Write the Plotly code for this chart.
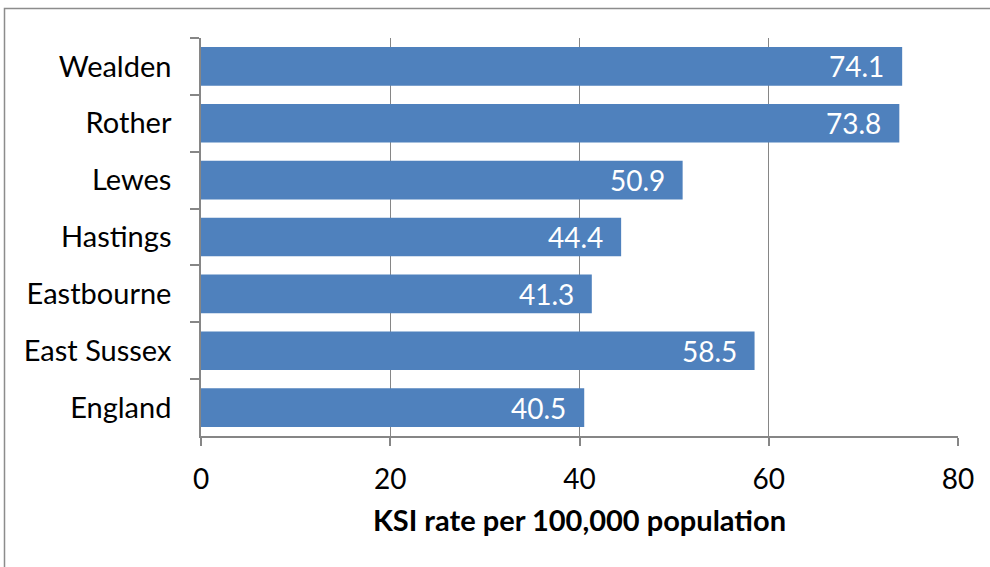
import plotly.graph_objects as go

# Killed or seriously injured (KSI) casualties per 100,000 population
areas = ["Wealden", "Rother", "Lewes", "Hastings", "Eastbourne", "East Sussex", "England"]
ksi_rate = [74.1, 73.8, 50.9, 44.4, 41.3, 58.5, 40.5]
x_ticks = [0, 20, 40, 60, 80]

W, H = 990, 567
L, R, T, B = 201, 32, 38, 131
FONT = "Lato, 'Open Sans', sans-serif"
GRID = "#868686"

fig = go.Figure(
    go.Bar(
        y=areas,
        x=ksi_rate,
        orientation="h",
        marker=dict(color="#4F81BD", line=dict(width=0)),
        width=0.68,
        hoverinfo="skip",
    )
)

# value labels, white, sitting inside the bar ends
for area, v in zip(areas, ksi_rate):
    fig.add_annotation(
        x=v, y=area, xref="x", yref="y",
        text=f"{v:.1f}", showarrow=False,
        xanchor="right", yanchor="middle", xshift=-16, yshift=0,
        font=dict(color="white", size=28, family=FONT),
    )

pw, ph = W - L - R, H - T - B
# outer chart border (runs off the right and bottom edges)
fig.add_shape(
    type="rect", xref="paper", yref="paper",
    x0=(4.5 - L) / pw, x1=(W + 10 - L) / pw,
    y0=-(H + 10 - T - ph) / ph, y1=1 + (T - 8.5) / ph,
    line=dict(color="#8c8c8c", width=1.5), layer="below",
)

fig.update_layout(
    width=W, height=H,
    margin=dict(l=L, r=R, t=T, b=B, pad=0),
    paper_bgcolor="white", plot_bgcolor="white",
    showlegend=False,
    font=dict(family=FONT, color="black"),
    xaxis=dict(
        range=[0, 80], tickvals=x_ticks, ticktext=[str(t) for t in x_ticks],
        showgrid=True, gridcolor=GRID, gridwidth=1,
        showline=True, linecolor=GRID, linewidth=1.5,
        ticks="outside", ticklen=8, tickcolor=GRID, tickwidth=1.5,
        tickfont=dict(size=28, family=FONT),
        ticklabelstandoff=10,
        zeroline=False,
        title=dict(text="<b>KSI rate per 100,000 population</b>",
                   font=dict(size=29, family=FONT), standoff=16),
    ),
    yaxis=dict(
        autorange="reversed",
        showline=True, linecolor=GRID, linewidth=1.5,
        ticks="outside", ticklen=9, tickcolor=GRID, tickwidth=1.5,
        tickson="boundaries",
        tickfont=dict(size=29, family=FONT),
        showgrid=False,
        ticklabelstandoff=22,
    ),
)

fig.write_html("out.html")
